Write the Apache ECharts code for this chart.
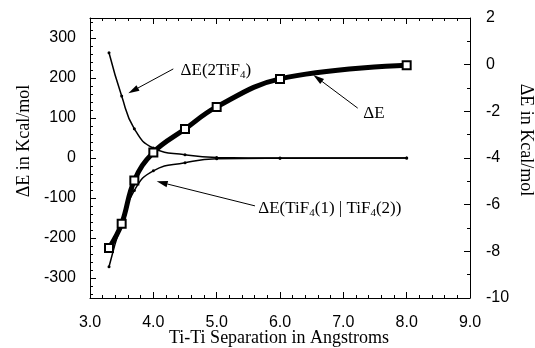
<!DOCTYPE html>
<html><head><meta charset="utf-8">
<script src="https://cdn.jsdelivr.net/npm/echarts@6/dist/echarts.min.js"></script>
<style>html,body{margin:0;padding:0;background:#fff}#c{width:535px;height:348px}</style>
</head><body><div id="c"></div>
<script>
// ---- data ----
const separation = [3.3, 3.5, 3.7, 4.0, 4.5, 5.0, 6.0, 8.0];
const dE_total   = [-7.86, -6.82, -4.96, -3.76, -2.76, -1.81, -0.61, -0.03]; // right axis
const dE_2TiF4   = [263, 155, 73, 25, 8, 1, 0, 0];                             // left axis
const dE_inter   = [-272, -162, -81, -32, -12, -2, -0.5, 0];                   // left axis
const xTickLabels = [3, 4, 5, 6, 7, 8, 9];
const leftTickLabels = [-300, -200, -100, 0, 100, 200, 300];
const rightTickLabels = [-10, -8, -6, -4, -2, 0, 2];

const leftMinor = [];
for (let v = -340; v <= 340; v += 20) leftMinor.push(v);

const SANS = 'Liberation Sans';
const SERIF = 'Liberation Serif';
const pairs = ys => separation.map((x, i) => [x, ys[i]]);

const chart = echarts.init(document.getElementById('c'), null, {renderer: 'canvas'});
const grid = {left: 90, right: 65, top: 18, bottom: 50};
const axisLine = {show: true, onZero: false, lineStyle: {color: '#000', width: 1}};

chart.setOption({
  animation: false,
  backgroundColor: '#fff',
  grid: [Object.assign({}, grid), Object.assign({}, grid)],
  xAxis: [
    {type: 'value', gridIndex: 0, position: 'bottom', min: 3, max: 9, interval: 1,
     axisLine, splitLine: {show: false},
     axisTick: {inside: true, length: 6, lineStyle: {color: '#000'}},
     minorTick: {show: true, splitNumber: 5, length: 3, lineStyle: {color: '#000'}},
     axisLabel: {margin: 17, fontFamily: SANS, fontSize: 16, color: '#000',
                 formatter: v => xTickLabels.includes(v) ? v.toFixed(1) : ''}},
    {type: 'value', gridIndex: 0, position: 'top', min: 3, max: 9, interval: 1,
     axisLine, splitLine: {show: false},
     axisTick: {inside: true, length: 6, lineStyle: {color: '#000'}},
     minorTick: {show: true, splitNumber: 5, length: 3, lineStyle: {color: '#000'}},
     axisLabel: {show: false}},
    {type: 'value', gridIndex: 1, min: 3, max: 9, show: false}
  ],
  yAxis: [
    {type: 'value', gridIndex: 0, position: 'left', min: -350, max: 350,
     axisLine, splitLine: {show: false},
     axisTick: {inside: true, length: 6, customValues: leftTickLabels, lineStyle: {color: '#000'}},
     axisLabel: {margin: 14, fontFamily: SANS, fontSize: 16, color: '#000', customValues: leftTickLabels}},
    {type: 'value', gridIndex: 0, position: 'right', min: -10, max: 2, interval: 2,
     axisLine, splitLine: {show: false},
     axisTick: {inside: true, length: 6, lineStyle: {color: '#000'}},
     minorTick: {show: true, splitNumber: 2, length: 3, lineStyle: {color: '#000'}},
     axisLabel: {margin: 16, fontFamily: SANS, fontSize: 16, color: '#000', align: 'left'}},
    {type: 'value', gridIndex: 1, position: 'left', min: -350, max: 350,
     axisLine: {show: false}, splitLine: {show: false}, axisLabel: {show: false},
     axisTick: {show: true, inside: true, length: 3, customValues: leftMinor, lineStyle: {color: '#000'}}}
  ],
  series: [
    {name: 'ΔE(2TiF4)', type: 'line', xAxisIndex: 0, yAxisIndex: 0, data: pairs(dE_2TiF4),
     smooth: 0.5, symbol: 'circle', symbolSize: 3,
     lineStyle: {color: '#000', width: 1.5}, itemStyle: {color: '#000'}, z: 2},
    {name: 'ΔE(TiF4(1) | TiF4(2))', type: 'line', xAxisIndex: 0, yAxisIndex: 0, data: pairs(dE_inter),
     smooth: 0.5, symbol: 'circle', symbolSize: 3,
     lineStyle: {color: '#000', width: 1.5}, itemStyle: {color: '#000'}, z: 2},
    {name: 'ΔE', type: 'line', xAxisIndex: 0, yAxisIndex: 1, data: pairs(dE_total),
     smooth: 0.4, symbol: 'emptyRect', symbolSize: 8,
     lineStyle: {color: '#000', width: 5}, itemStyle: {color: '#000', borderWidth: 1}, z: 5}
  ]
});

// ---- annotations (anchored in left-axis data coordinates) ----
const notes = [
  {text: '{m|ΔE(2TiF}{s|4}{m|)}', tail: [4.315, 222.7], head: [3.605, 162], at: [4.43, 218]},
  {text: '{m|ΔE}', tail: [7.227, 124.7], head: [6.526, 207.7], at: [7.316, 110.5]},
  {text: '{m|ΔE(TiF}{s|4}{m|(1) | TiF}{s|4}{m|(2))}', tail: [5.605, -119.7], head: [4.053, -58.4], at: [5.657, -126.4]}
];
const px = p => chart.convertToPixel({xAxisIndex: 0, yAxisIndex: 0}, p);
const graphics = [];
notes.forEach(n => {
  const t = px(n.tail), h = px(n.head), a = px(n.at);
  const dx = h[0] - t[0], dy = h[1] - t[1], L = Math.hypot(dx, dy);
  const ux = dx / L, uy = dy / L, len = 11, hw = 3.2;
  const bx = h[0] - ux * len, by = h[1] - uy * len;
  graphics.push({type: 'line', shape: {x1: t[0], y1: t[1], x2: bx, y2: by},
                 style: {stroke: '#000', lineWidth: 1}, silent: true});
  graphics.push({type: 'polygon', shape: {points: [[h[0], h[1]], [bx - uy * hw, by + ux * hw], [bx + uy * hw, by - ux * hw]]},
                 style: {fill: '#000'}, silent: true});
  graphics.push({type: 'text', x: a[0], y: a[1], silent: true,
    style: {text: n.text, align: 'left', verticalAlign: 'middle',
      rich: {m: {fontFamily: SERIF, fontSize: 17, lineHeight: 20, fill: '#000'},
             s: {fontFamily: SERIF, fontSize: 11, lineHeight: 9, verticalAlign: 'bottom', fill: '#000'}}}});
});
// axis titles
graphics.push({type: 'text', x: 24, y: 141, rotation: Math.PI / 2, silent: true,
  style: {text: 'ΔE in Kcal/mol', font: '18px "Liberation Serif"', fill: '#000', align: 'center', verticalAlign: 'middle'}});
graphics.push({type: 'text', x: 526, y: 140, rotation: -Math.PI / 2, silent: true,
  style: {text: 'ΔE in Kcal/mol', font: '18px "Liberation Serif"', fill: '#000', align: 'center', verticalAlign: 'middle'}});
graphics.push({type: 'text', x: 279, y: 338, silent: true,
  style: {text: 'Ti-Ti Separation in Angstroms', font: '18px "Liberation Serif"', fill: '#000', align: 'center', verticalAlign: 'middle'}});
chart.setOption({graphic: graphics});
</script>
</body></html>
